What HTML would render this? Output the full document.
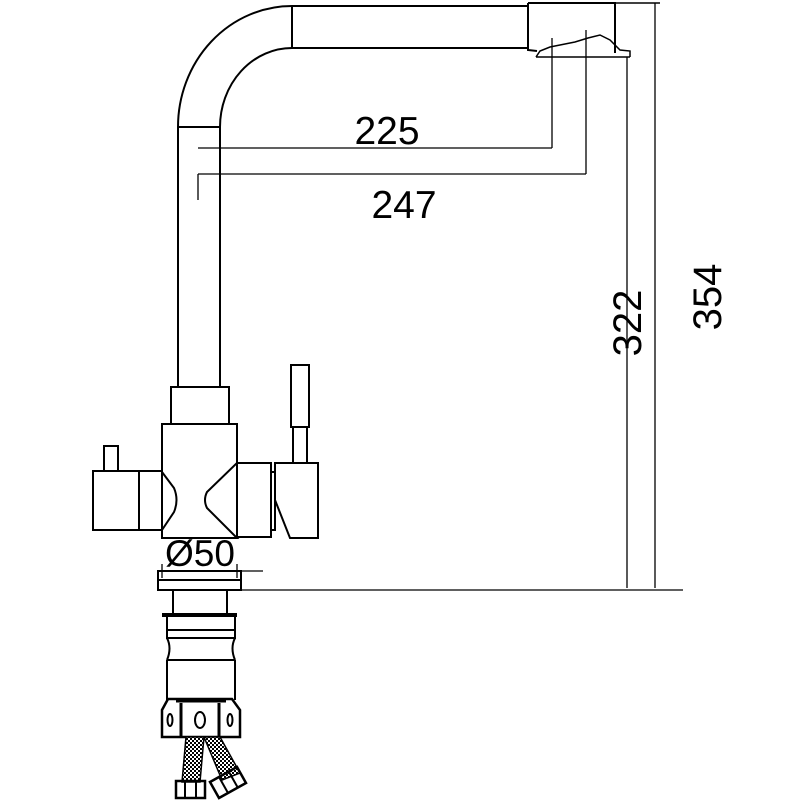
<!DOCTYPE html>
<html><head><meta charset="utf-8"><style>
html,body{margin:0;padding:0;background:#fff;}
svg{display:block}
text{font-family:"Liberation Sans",sans-serif;fill:#000}
</style></head><body>
<svg width="800" height="800" viewBox="0 0 800 800" xmlns="http://www.w3.org/2000/svg" fill="none" stroke="#000" stroke-width="2">
<defs>
<pattern id="mesh" width="4" height="4" patternUnits="userSpaceOnUse">
<rect width="4" height="4" fill="#fff" stroke="none"/>
<rect width="2" height="2" fill="#000" stroke="none"/>
<rect x="2" y="2" width="2" height="2" fill="#000" stroke="none"/>
</pattern>
</defs>
<!-- spout -->
<path d="M178 387 L178 127 A114 121 0 0 1 292 6 L528 6"/>
<path d="M220 387 L220 127 A72 79 0 0 1 292 48 L528 48"/>
<line x1="178" y1="127" x2="220" y2="127"/>
<line x1="292" y1="6" x2="292" y2="48"/>
<!-- head -->
<path d="M528 3 L615 3 L615 53 M528 3 L528 50 L537 51"/>
<line x1="615" y1="3" x2="660" y2="3" stroke-width="1.5"/>
<path d="M536 57 L630 57 M536 57 L540 51 L550 47 L575 42 L588 38 L600 35 L610 40 L620 50 L630 51 L630 57" stroke-width="1.5"/>
<!-- dimensions top -->
<g stroke-width="1.3">
<line x1="198" y1="148" x2="552" y2="148"/>
<line x1="552" y1="38" x2="552" y2="148"/>
<line x1="198" y1="174" x2="586" y2="174"/>
<line x1="586" y1="30" x2="586" y2="174"/>
<line x1="198" y1="174" x2="198" y2="200"/>
<line x1="655" y1="3" x2="655" y2="588"/>
<line x1="627" y1="57" x2="627" y2="588"/>
<line x1="241" y1="590" x2="683" y2="590"/>
</g>
<text x="387" y="144" font-size="39" text-anchor="middle" stroke="none">225</text>
<text x="404" y="218" font-size="39" text-anchor="middle" stroke="none">247</text>
<text transform="translate(641,323) rotate(-90)" font-size="40" text-anchor="middle" stroke="none">322</text>
<text transform="translate(721,297) rotate(-90)" font-size="40" text-anchor="middle" stroke="none">354</text>
<!-- collar & body -->
<rect x="171" y="387" width="58" height="37"/>
<path d="M162 424 L237 424 L237 463 L207 492 Q203 500 207 508 L237 538 L162 538 L162 530 L174 512 Q179 500 174 488 L162 472 Z"/>
<!-- left handle -->
<rect x="93" y="471" width="69" height="59"/>
<line x1="139" y1="471" x2="139" y2="530"/>
<rect x="104" y="446" width="14" height="25"/>
<!-- right -->
<rect x="237" y="463" width="34" height="74"/>
<rect x="271" y="472" width="4" height="58"/>
<path d="M275 463 L318 463 L318 538 L290 538 L275 500 Z"/>
<rect x="293" y="427" width="14" height="36"/>
<rect x="291" y="365" width="18" height="62"/>
<!-- Ø50 -->
<text x="200" y="566" font-size="37" text-anchor="middle" stroke="none">Ø50</text>
<line x1="157" y1="571" x2="263" y2="571" stroke-width="1.3"/>
<line x1="162" y1="564" x2="162" y2="578" stroke-width="1.3"/>
<line x1="237" y1="564" x2="237" y2="578" stroke-width="1.3"/>
<rect x="158" y="571" width="83" height="19"/>
<line x1="158" y1="580" x2="241" y2="580"/>
<!-- shank -->
<path d="M173 590 L173 615 M227 590 L227 615"/>
<line x1="162" y1="615" x2="237" y2="615" stroke-width="4"/>
<path d="M167 617 L167 630 L235 630 L235 617 M167 630 L167 638 L235 638 L235 630 M167 638 Q172 648 167 660 M235 638 Q230 648 235 660 M167 660 L235 660 M167 660 L167 700 M235 660 L235 700"/>
<!-- nut -->
<path d="M168 699 L232 699 L240 710 L240 737 L162 737 L162 710 Z" stroke-width="2.5"/>
<line x1="181" y1="703" x2="181" y2="737" stroke-width="3"/>
<line x1="219" y1="703" x2="219" y2="737" stroke-width="3"/>
<line x1="176" y1="701" x2="226" y2="701" stroke-width="3"/>
<ellipse cx="200" cy="720" rx="5" ry="8"/>
<ellipse cx="170" cy="720" rx="2.5" ry="6"/>
<ellipse cx="230" cy="720" rx="2.5" ry="6"/>
<!-- hoses -->
<path d="M186 737 L182 782 L200 782 L204 737 Z" fill="url(#mesh)" stroke-width="1.5"/>
<path d="M204 737 L222 780 L240 773 L220 737 Z" fill="url(#mesh)" stroke-width="1.5"/>
<rect x="176" y="781" width="29" height="17" stroke-width="2.5"/>
<line x1="185" y1="781" x2="185" y2="798"/>
<line x1="196" y1="781" x2="196" y2="798"/>
<path d="M210 782 L237 767 L246 783 L219 798 Z" stroke-width="2.5"/>
<line x1="219" y1="777" x2="228" y2="793"/>
<line x1="229" y1="772" x2="238" y2="788"/>
</svg>
</body></html>
